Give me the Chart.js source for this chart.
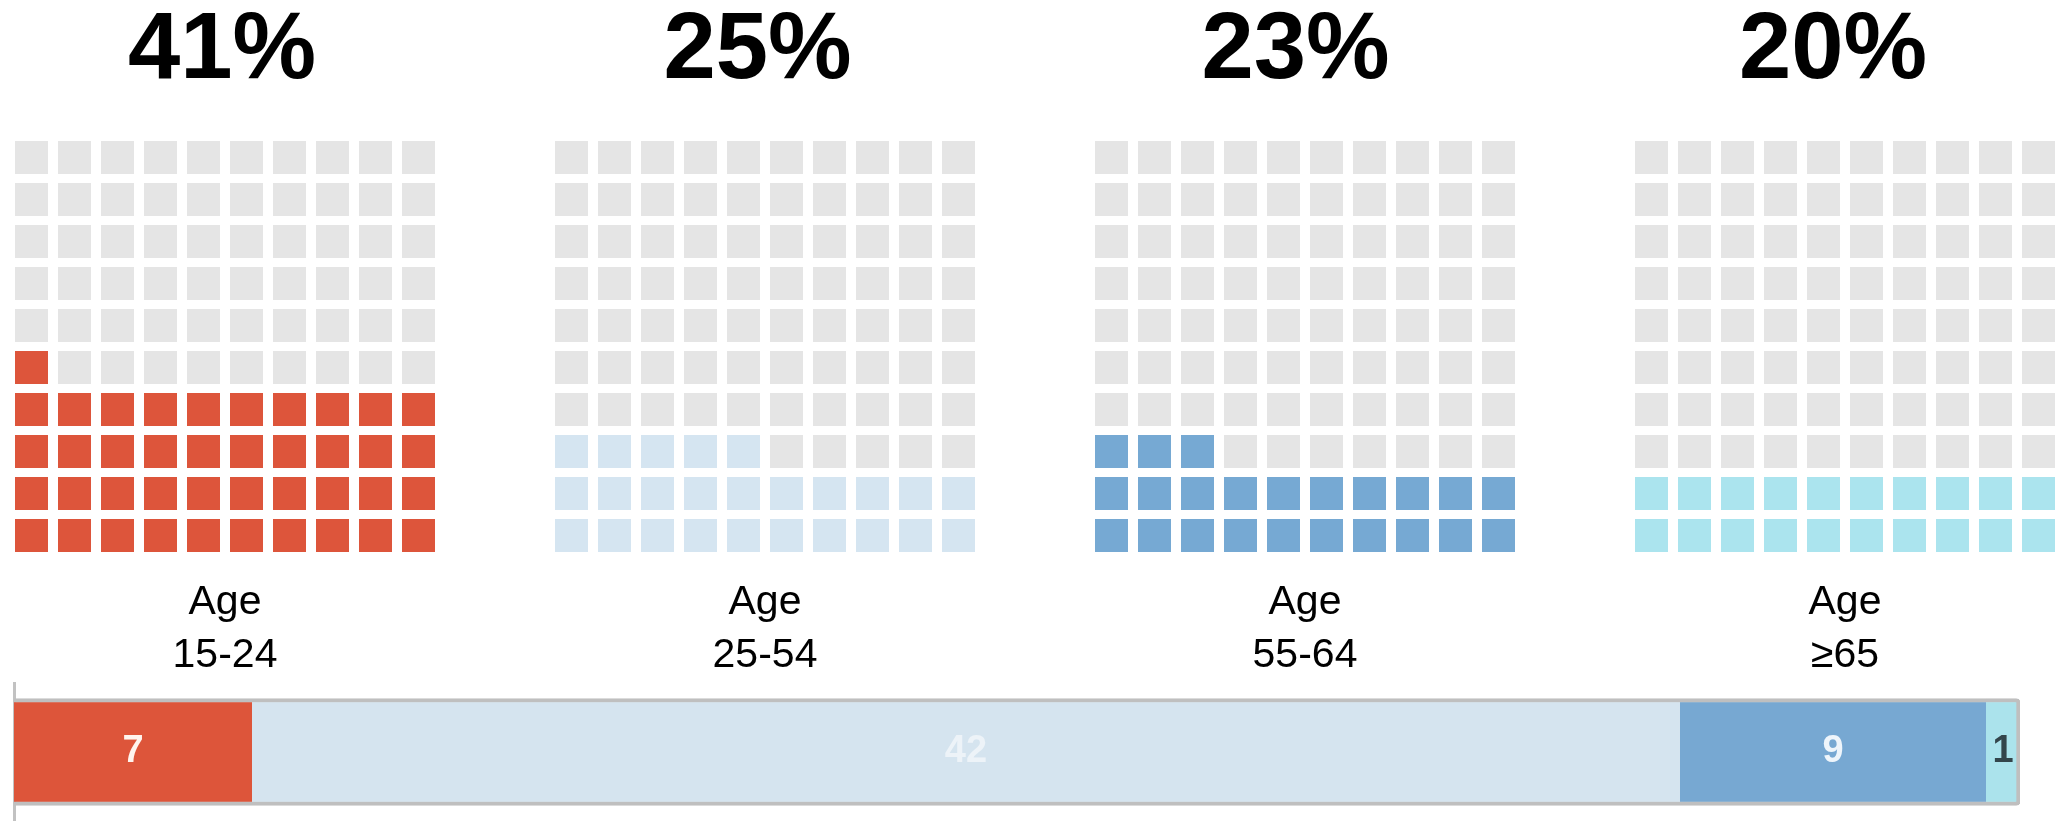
<!DOCTYPE html>
<html><head><meta charset="utf-8">
<script src="https://cdn.jsdelivr.net/npm/chart.js@4"></script>
<style>
html,body{margin:0;padding:0;background:#fff;overflow:hidden}
#wrap{position:relative;width:2068px;height:821px;background:#fff}
.w{position:absolute;top:0}
#barbox{position:absolute;left:0;top:680px}
canvas{display:block}
</style></head><body>
<div id="wrap">
<div id="barbox"><canvas id="bar" width="2068" height="141"></canvas></div>
</div>
<script>
// ---- data ----
const ageGroups = ['15-24', '25-54', '55-64', '≥65'];
const sharePct = [41, 25, 23, 20];
const groupColors = ['#dd553b', '#d5e5f1', '#76a9d3', '#abe4ee'];
const emptyColor = '#e5e5e5';
const barCounts = [7, 42, 9, 1];
const barColors = ['#dd553a', '#d5e4ef', '#77a8d2', '#abe3ec'];
const barLabelColors = ['#fff4ee', '#edf3f8', '#eef5fb', '#33454b'];
const gridCols = 10, gridRows = 10;

// ---- layout constants (not data) ----
const panelStep = 540, areaLeft = 10, areaW = 430, canvasH = 682;
const titleShift = [6, 15, 19, 24]; // left-side gutter so the big title sits slightly left of grid centre

const FONT = '"Liberation Sans", Arial, Helvetica, sans-serif';
Chart.defaults.font.family = FONT;

function cellImg(color) {
  const c = document.createElement('canvas');
  c.width = 33; c.height = 33;
  const g = c.getContext('2d');
  g.fillStyle = color; g.fillRect(0, 0, 33, 33);
  return c;
}
const emptyImg = cellImg(emptyColor);
const wrap = document.getElementById('wrap');

ageGroups.forEach((age, i) => {
  const gutter = titleShift[i];
  const div = document.createElement('div');
  div.className = 'w';
  div.style.left = (areaLeft + panelStep * i - gutter) + 'px';
  const cv = document.createElement('canvas');
  cv.width = areaW + gutter; cv.height = canvasH;
  div.appendChild(cv); wrap.appendChild(div);

  const filled = [], empty = [];
  for (let k = 0; k < gridCols * gridRows; k++) {
    const pt = {x: k % gridCols, y: Math.floor(k / gridCols)};
    (k < sharePct[i] ? filled : empty).push(pt);
  }
  new Chart(cv, {
    type: 'scatter',
    data: {datasets: [
      {label: 'share', data: filled, pointStyle: cellImg(groupColors[i]), pointRadius: 16, clip: false},
      {label: 'rest', data: empty, pointStyle: emptyImg, pointRadius: 16, clip: false}
    ]},
    options: {
      responsive: false, animation: false, events: [],
      layout: {padding: 0, autoPadding: false},
      plugins: {
        legend: {display: false}, tooltip: {enabled: false},
        title: {display: true, text: sharePct[i] + '%', color: '#000',
          font: {family: FONT, size: 94, weight: 'bold', lineHeight: 1},
          padding: {top: 5, bottom: 37.5}}
      },
      scales: {
        x: {type: 'linear', min: -0.5, max: gridCols - 0.5,
          ticks: {display: false}, grid: {display: false, drawTicks: false}, border: {display: false},
          title: {display: true, text: ['Age', age], color: '#000',
            font: {family: FONT, size: 41, lineHeight: 53 / 41}, padding: {top: 19.5, bottom: 0}}},
        y: {type: 'linear', min: -0.5, max: gridRows - 0.5,
          ticks: {display: false}, grid: {display: false, drawTicks: false}, border: {display: false},
          afterFit: s => { s.width = gutter; }}
      }
    }
  });
});

const barLabelPlugin = {
  id: 'barLabels',
  afterDatasetsDraw(chart) {
    const ctx = chart.ctx;
    ctx.save();
    ctx.font = 'bold 38px ' + FONT;
    ctx.textAlign = 'center';
    ctx.textBaseline = 'middle';
    chart.data.datasets.forEach((ds, i) => {
      const el = chart.getDatasetMeta(i).data[0];
      const p = el.getCenterPoint();
      ctx.fillStyle = barLabelColors[i];
      ctx.fillText(String(ds.data[0]), p.x, p.y);
    });
    ctx.restore();
  }
};

const last = barCounts.length - 1;
new Chart(document.getElementById('bar'), {
  type: 'bar',
  data: {
    labels: ['All'],
    datasets: barCounts.map((v, i) => ({
      label: ageGroups[i], data: [v], backgroundColor: barColors[i],
      borderColor: '#bfbfbf', borderSkipped: false,
      borderWidth: {top: 4, bottom: 4, left: 0, right: i === last ? 4 : 0},
      borderRadius: i === last ? {topRight: 4, bottomRight: 4, topLeft: 0, bottomLeft: 0} : 0,
      barThickness: 107
    }))
  },
  options: {
    indexAxis: 'y', responsive: false, animation: false, events: [],
    layout: {padding: {left: 14, right: 48, top: 3, bottom: 0}},
    plugins: {legend: {display: false}, tooltip: {enabled: false}},
    scales: {
      x: {stacked: true, min: 0, max: barCounts.reduce((a, b) => a + b, 0), display: false},
      y: {stacked: true, ticks: {display: false}, grid: {display: false, drawTicks: false},
        border: {display: true, color: '#c2c2c2', width: 3}}
    }
  },
  plugins: [barLabelPlugin]
});
</script>
</body></html>
